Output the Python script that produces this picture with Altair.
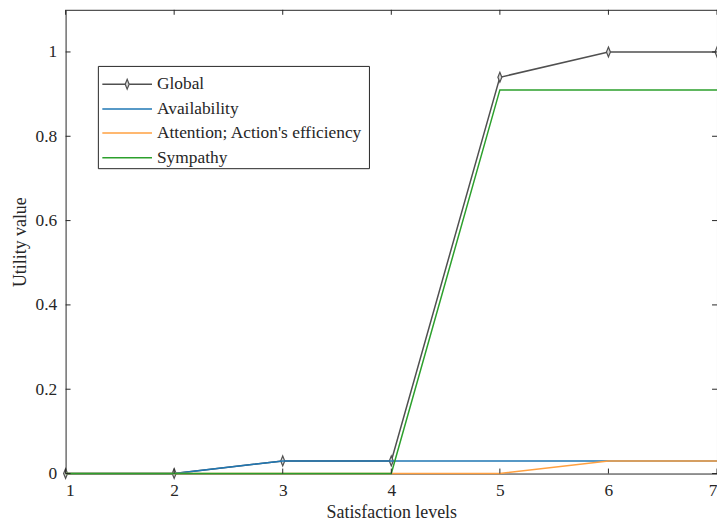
import altair as alt
import pandas as pd

levels = [1, 2, 3, 4, 5, 6, 7]
global_u = [0, 0, 0.03, 0.03, 0.94, 1.0, 1.0]
availability = [0, 0, 0.03, 0.03, 0.03, 0.03, 0.03]
attention = [0, 0, 0, 0, 0, 0.03, 0.03]
sympathy = [0, 0, 0, 0, 0.91, 0.91, 0.91]

series_names = ["Global", "Availability", "Attention; Action's efficiency", "Sympathy"]
series_vals = [global_u, availability, attention, sympathy]
series_colors = ["#505050", "#1f77b4", "#ffa040", "#2ca02c"]

x_ticks = [1, 2, 3, 4, 5, 6, 7]
y_ticks = [0, 0.2, 0.4, 0.6, 0.8, 1.0]

W, H = 656, 467
FONT = "Liberation Serif"
TXT = "#262626"
DIAMOND = "M0,-1L0.4,0L0,1L-0.4,0Z"

xs = alt.Scale(domain=[1, 7], nice=False, zero=False)
ys = alt.Scale(domain=[0, 1.1], nice=False)

layers = []
for name, vals, col in zip(series_names, series_vals, series_colors):
    df = pd.DataFrame({"x": levels, "y": vals, "s": name})
    enc = dict(
        x=alt.X("x:Q", scale=xs, axis=alt.Axis(values=x_ticks, title="Satisfaction levels", format="d")),
        y=alt.Y("y:Q", scale=ys, axis=alt.Axis(values=y_ticks, title="Utility value",
                                               labelExpr="datum.value == 0 ? '0' : datum.value == 1 ? '1' : datum.label")),
    )
    layers.append(alt.Chart(df).mark_line(color=col, strokeWidth=1.5).encode(**enc))
    if name == "Global":
        layers.append(alt.Chart(df).mark_point(
            shape=DIAMOND, size=100, color=col, filled=False,
            strokeWidth=1.2, fill="#d8d8d8", fillOpacity=1).encode(x=alt.X("x:Q", scale=xs), y=alt.Y("y:Q", scale=ys)))

# inward ticks (MATLAB style)
xt = pd.DataFrame({"x": x_ticks})
yt = pd.DataFrame({"y": y_ticks})
layers.append(alt.Chart(xt).mark_rule(color=TXT).encode(x=alt.X("x:Q", scale=xs), y=alt.value(H), y2=alt.value(H - 5)))
layers.append(alt.Chart(xt).mark_rule(color=TXT).encode(x=alt.X("x:Q", scale=xs), y=alt.value(0), y2=alt.value(5)))
layers.append(alt.Chart(yt).mark_rule(color=TXT).encode(y=alt.Y("y:Q", scale=ys), x=alt.value(0), x2=alt.value(5)))
layers.append(alt.Chart(yt).mark_rule(color=TXT).encode(y=alt.Y("y:Q", scale=ys), x=alt.value(W), x2=alt.value(W - 5)))

# legend
box = alt.Chart(pd.DataFrame({"a": [0]})).mark_rect(fill="white", stroke=TXT, strokeWidth=1).encode(
    x=alt.value(33), x2=alt.value(306), y=alt.value(57), y2=alt.value(160))
layers.append(box)
row_y = [75, 100, 124, 149]
for name, col, ry in zip(series_names, series_colors, row_y):
    d = pd.DataFrame({"label": [name]})
    layers.append(alt.Chart(d).mark_rule(color=col, strokeWidth=1.5).encode(
        x=alt.value(37), x2=alt.value(87), y=alt.value(ry)))
    layers.append(alt.Chart(d).mark_text(align="left", baseline="middle", font=FONT, fontSize=17.5, color=TXT).encode(
        x=alt.value(92), y=alt.value(ry), text="label:N"))
    if name == "Global":
        layers.append(alt.Chart(d).mark_point(
            shape=DIAMOND, size=100, color=col, filled=False,
            strokeWidth=1.2, fill="#d8d8d8", fillOpacity=1).encode(x=alt.value(62), y=alt.value(ry)))

chart = alt.layer(*layers).properties(
    width=W, height=H,
    autosize=alt.AutoSizeParams(type="none"),
    padding={"left": 58, "top": 0, "right": 0, "bottom": 49},
).configure_view(stroke=TXT, strokeWidth=1).configure_axis(
    grid=False, domain=False, ticks=False,
    labelFont=FONT, labelFontSize=17.5, labelColor=TXT,
    titleFont=FONT, titleFontSize=18, titleColor=TXT, titleFontWeight="normal",
).configure_axisX(labelPadding=8, titlePadding=5).configure_axisY(labelPadding=9, titlePadding=6)

chart.save("out.html", embed_options={"renderer": "svg", "actions": False})
